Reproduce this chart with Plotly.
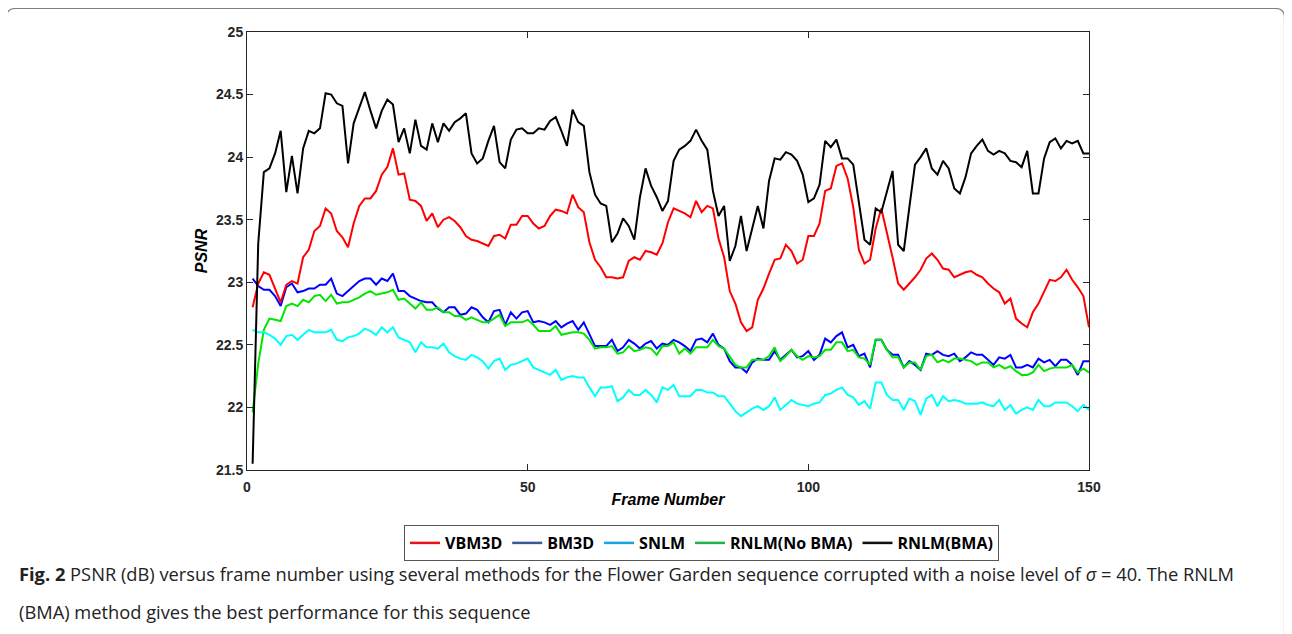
import plotly.graph_objects as go

frames = list(range(1, 151))

vbm3d = [
    22.80, 22.99, 23.08, 23.06, 22.95, 22.84, 22.98, 23.01, 22.99, 23.20,
    23.26, 23.41, 23.45, 23.59, 23.55, 23.41, 23.36, 23.28, 23.47, 23.61,
    23.67, 23.67, 23.73, 23.86, 23.92, 24.07, 23.86, 23.87, 23.66, 23.65,
    23.61, 23.49, 23.55, 23.44, 23.50, 23.52, 23.49, 23.44, 23.37, 23.34,
    23.33, 23.31, 23.29, 23.37, 23.38, 23.35, 23.46, 23.46, 23.53, 23.53,
    23.47, 23.43, 23.45, 23.53, 23.58, 23.57, 23.55, 23.70, 23.60, 23.56,
    23.32, 23.18, 23.12, 23.04, 23.04, 23.03, 23.04, 23.17, 23.20, 23.18,
    23.25, 23.24, 23.22, 23.31, 23.48, 23.59, 23.57, 23.55, 23.52, 23.65,
    23.56, 23.61, 23.59, 23.35, 23.20, 22.93, 22.83, 22.68, 22.61, 22.64,
    22.86, 22.95, 23.07, 23.18, 23.19, 23.30, 23.25, 23.15, 23.18, 23.37,
    23.37, 23.47, 23.73, 23.75, 23.93, 23.95, 23.83, 23.60, 23.26, 23.15,
    23.18, 23.43, 23.59, 23.40, 23.20, 22.99, 22.94, 22.99, 23.04, 23.10,
    23.19, 23.23, 23.18, 23.11, 23.10, 23.04, 23.06, 23.08, 23.09, 23.06,
    23.04, 22.99, 22.95, 22.92, 22.83, 22.87, 22.71, 22.67, 22.64, 22.76,
    22.83, 22.92, 23.02, 23.01, 23.04, 23.10, 23.02, 22.96, 22.89, 22.64,
]

bm3d = [
    23.03, 22.97, 22.94, 22.94, 22.89, 22.81, 22.96, 22.99, 22.92, 22.93,
    22.95, 22.95, 22.98, 22.98, 23.03, 22.91, 22.89, 22.93, 22.97, 23.01,
    23.03, 23.03, 22.98, 23.03, 23.01, 23.07, 22.93, 22.93, 22.89, 22.87,
    22.85, 22.84, 22.84, 22.79, 22.76, 22.80, 22.80, 22.74, 22.75, 22.80,
    22.78, 22.72, 22.68, 22.77, 22.78, 22.66, 22.76, 22.71, 22.76, 22.77,
    22.68, 22.69, 22.68, 22.66, 22.69, 22.64, 22.67, 22.69, 22.62, 22.68,
    22.58, 22.49, 22.49, 22.49, 22.54, 22.45, 22.48, 22.54, 22.51, 22.47,
    22.51, 22.53, 22.47, 22.51, 22.50, 22.54, 22.52, 22.49, 22.45, 22.54,
    22.55, 22.52, 22.59, 22.50, 22.47, 22.37, 22.32, 22.32, 22.28, 22.36,
    22.39, 22.38, 22.38, 22.45, 22.38, 22.42, 22.46, 22.40, 22.41, 22.45,
    22.38, 22.42, 22.55, 22.52, 22.57, 22.60, 22.48, 22.50, 22.41, 22.43,
    22.32, 22.54, 22.54, 22.46, 22.42, 22.42, 22.32, 22.37, 22.34, 22.30,
    22.43, 22.42, 22.45, 22.42, 22.41, 22.43, 22.37, 22.40, 22.44, 22.42,
    22.42, 22.38, 22.34, 22.40, 22.39, 22.42, 22.32, 22.32, 22.34, 22.32,
    22.39, 22.36, 22.38, 22.33, 22.38, 22.38, 22.34, 22.26, 22.37, 22.37,
]

snlm = [
    22.62, 22.60, 22.60, 22.58, 22.55, 22.50, 22.57, 22.58, 22.54, 22.58,
    22.62, 22.60, 22.60, 22.60, 22.62, 22.54, 22.53, 22.56, 22.57, 22.59,
    22.63, 22.61, 22.58, 22.64, 22.60, 22.64, 22.56, 22.54, 22.52, 22.44,
    22.52, 22.48, 22.48, 22.47, 22.51, 22.44, 22.41, 22.39, 22.38, 22.42,
    22.40, 22.37, 22.31, 22.37, 22.39, 22.30, 22.34, 22.35, 22.37, 22.39,
    22.32, 22.30, 22.28, 22.26, 22.30, 22.22, 22.24, 22.25, 22.24, 22.24,
    22.16, 22.09, 22.16, 22.16, 22.17, 22.05, 22.08, 22.14, 22.10, 22.10,
    22.14, 22.10, 22.04, 22.16, 22.14, 22.18, 22.09, 22.09, 22.09, 22.14,
    22.14, 22.12, 22.12, 22.09, 22.09, 22.03, 21.97, 21.93, 21.96, 21.99,
    22.01, 21.98, 22.01, 22.08, 21.98, 22.02, 22.06, 22.03, 22.02, 22.01,
    22.03, 22.04, 22.10, 22.11, 22.14, 22.16, 22.10, 22.08, 22.02, 22.05,
    21.99, 22.20, 22.20, 22.10, 22.06, 22.06, 21.98, 22.07, 22.05, 21.94,
    22.07, 22.10, 22.01, 22.09, 22.05, 22.06, 22.05, 22.03, 22.03, 22.03,
    22.04, 22.02, 22.01, 22.06, 21.98, 22.02, 21.95, 21.98, 22.00, 21.98,
    22.06, 22.01, 22.01, 22.04, 22.04, 22.04, 22.01, 21.97, 22.02, 21.98,
]

rnlm_nobma = [
    21.96, 22.35, 22.62, 22.71, 22.70, 22.69, 22.81, 22.83, 22.81, 22.86,
    22.84, 22.89, 22.90, 22.85, 22.90, 22.83, 22.84, 22.84, 22.86, 22.88,
    22.91, 22.93, 22.90, 22.91, 22.92, 22.94, 22.86, 22.87, 22.83, 22.79,
    22.84, 22.78, 22.78, 22.80, 22.76, 22.76, 22.73, 22.73, 22.70, 22.72,
    22.70, 22.68, 22.68, 22.71, 22.74, 22.65, 22.68, 22.68, 22.68, 22.70,
    22.66, 22.61, 22.61, 22.61, 22.65, 22.58, 22.59, 22.60, 22.60, 22.59,
    22.54, 22.47, 22.48, 22.48, 22.49, 22.43, 22.44, 22.49, 22.45, 22.46,
    22.48, 22.47, 22.42, 22.49, 22.49, 22.52, 22.43, 22.47, 22.43, 22.48,
    22.48, 22.48, 22.54, 22.49, 22.47, 22.40, 22.34, 22.32, 22.32, 22.38,
    22.38, 22.38, 22.41, 22.48, 22.37, 22.41, 22.46, 22.41, 22.38, 22.41,
    22.40, 22.41, 22.46, 22.46, 22.52, 22.52, 22.45, 22.46, 22.40, 22.39,
    22.34, 22.54, 22.54, 22.46, 22.40, 22.40, 22.32, 22.36, 22.36, 22.30,
    22.41, 22.42, 22.36, 22.38, 22.36, 22.39, 22.39, 22.38, 22.37, 22.34,
    22.36, 22.36, 22.32, 22.34, 22.31, 22.33, 22.29, 22.26, 22.26, 22.28,
    22.34, 22.29, 22.31, 22.32, 22.32, 22.32, 22.34, 22.28, 22.31, 22.28,
]

rnlm_bma = [
    21.55, 23.31, 23.88, 23.91, 24.03, 24.21, 23.72, 24.01, 23.71, 24.07,
    24.21, 24.19, 24.23, 24.51, 24.50, 24.43, 24.41, 23.95, 24.27, 24.40,
    24.52, 24.37, 24.23, 24.37, 24.46, 24.42, 24.12, 24.23, 24.03, 24.30,
    24.09, 24.06, 24.27, 24.12, 24.27, 24.21, 24.28, 24.31, 24.35, 24.03,
    23.95, 23.99, 24.13, 24.25, 23.96, 23.91, 24.14, 24.22, 24.23, 24.19,
    24.19, 24.23, 24.22, 24.29, 24.32, 24.21, 24.09, 24.38, 24.28, 24.25,
    23.88, 23.70, 23.63, 23.61, 23.32, 23.39, 23.51, 23.45, 23.34, 23.68,
    23.91, 23.77, 23.68, 23.57, 23.65, 23.97, 24.06, 24.09, 24.13, 24.22,
    24.13, 24.06, 23.73, 23.53, 23.61, 23.17, 23.29, 23.53, 23.25, 23.43,
    23.61, 23.43, 23.81, 23.99, 23.98, 24.04, 24.02, 23.97, 23.86, 23.64,
    23.67, 23.78, 24.13, 24.08, 24.14, 23.99, 23.99, 23.94, 23.62, 23.34,
    23.30, 23.59, 23.56, 23.73, 23.89, 23.30, 23.25, 23.60, 23.94, 24.00,
    24.07, 23.91, 23.86, 23.97, 23.91, 23.75, 23.71, 23.84, 24.03, 24.09,
    24.14, 24.05, 24.02, 24.05, 24.03, 23.97, 23.96, 23.92, 24.05, 23.71,
    23.71, 23.99, 24.12, 24.15, 24.07, 24.13, 24.11, 24.13, 24.03, 24.03,
]

series_names = ["VBM3D", "BM3D", "SNLM", "RNLM(No BMA)", "RNLM(BMA)"]
series_values = [vbm3d, bm3d, snlm, rnlm_nobma, rnlm_bma]
line_colors = ["#ff0000", "#0000ff", "#00ffff", "#00e600", "#000000"]
legend_colors = ["#e8141c", "#3b5998", "#1aa3e0", "#22b04a", "#111111"]

x_ticks = [0, 50, 100, 150]
y_ticks = [21.5, 22, 22.5, 23, 23.5, 24, 24.5, 25]
y_ticklabels = ["21.5", "22", "22.5", "23", "23.5", "24", "24.5", "25"]

caption_line1 = ("<b>Fig. 2</b> PSNR (dB) versus frame number using several methods for the "
                 "Flower Garden sequence corrupted with a noise level of <i>σ</i> = 40. The RNLM")
caption_line2 = "(BMA) method gives the best performance for this sequence"

# page body has an 8px margin; work in reference-pixel coordinates and shift
OFF = 8
W, H = 1292 - OFF, 634 - OFF
L, R, T, B = 247, 1089, 32, 470  # plot area in reference pixels

fig = go.Figure()
for i in [1, 3, 2, 0, 4]:
    fig.add_trace(go.Scatter(x=frames, y=series_values[i], mode="lines",
                             line=dict(color=line_colors[i], width=2),
                             showlegend=False, hoverinfo="skip"))
for i in range(5):
    fig.add_trace(go.Scatter(x=[None], y=[None], mode="lines", name=series_names[i],
                             line=dict(color=legend_colors[i], width=2.5), showlegend=True))


def px_x(px):
    return (px - L) / (R - L)


def px_y(py):
    return (B - py) / (B - T)


lx, rx_, ty, by = 6.5, 1284.5, 8.5, 660
rad = 9
path = (f"M {px_x(lx)},{px_y(by)} L {px_x(lx)},{px_y(ty + rad)} "
        f"Q {px_x(lx)},{px_y(ty)} {px_x(lx + rad)},{px_y(ty)} "
        f"L {px_x(rx_ - rad)},{px_y(ty)} Q {px_x(rx_)},{px_y(ty)} {px_x(rx_)},{px_y(ty + rad)} "
        f"L {px_x(rx_)},{px_y(by)}")

cap_font = dict(family="Open Sans", size=18.3, color="#222222")

fig.update_layout(
    width=W, height=H,
    margin=dict(l=L - OFF, r=1292 - R, t=T - OFF, b=634 - B),
    paper_bgcolor="white", plot_bgcolor="white",
    showlegend=True,
    legend=dict(orientation="h", x=px_x(701.5), xanchor="center", y=px_y(525), yanchor="top",
                bordercolor="#555555", borderwidth=1, bgcolor="white",
                font=dict(family="Open Sans", size=16, color="black", weight="bold"),
                itemwidth=30, tracegroupgap=0, traceorder="normal"),
    shapes=[dict(type="path", xref="paper", yref="paper", path=path,
                 line=dict(color="#7f7f7f", width=1.2), layer="below")],
    annotations=[
        dict(text=caption_line1, xref="paper", yref="paper", x=px_x(17), y=px_y(573),
             xanchor="left", yanchor="middle", showarrow=False, align="left", font=cap_font),
        dict(text=caption_line2, xref="paper", yref="paper", x=px_x(17), y=px_y(611),
             xanchor="left", yanchor="middle", showarrow=False, align="left", font=cap_font),
    ],
)

fig.update_xaxes(range=[0, 150], tickvals=x_ticks, ticktext=[str(v) for v in x_ticks],
                 showgrid=False, zeroline=False, showline=True, linecolor="#262626", linewidth=1,
                 mirror="ticks", ticks="inside", ticklen=6, tickcolor="#262626",
                 ticklabelstandoff=4,
                 tickfont=dict(family="Liberation Sans", size=14, color="#262626", weight="bold"),
                 title=dict(text="<b><i>Frame Number</i></b>", standoff=0,
                            font=dict(family="Liberation Sans", size=16, color="black")))
fig.update_yaxes(range=[21.5, 25], tickvals=y_ticks, ticktext=y_ticklabels,
                 showgrid=False, zeroline=False, showline=True, linecolor="#262626", linewidth=1,
                 mirror="ticks", ticks="inside", ticklen=6, tickcolor="#262626",
                 tickfont=dict(family="Liberation Sans", size=14, color="#262626", weight="bold"),
                 title=dict(text="<b><i>PSNR</i></b>", standoff=4,
                            font=dict(family="Liberation Sans", size=16, color="black")))

fig.write_html("out.html")
